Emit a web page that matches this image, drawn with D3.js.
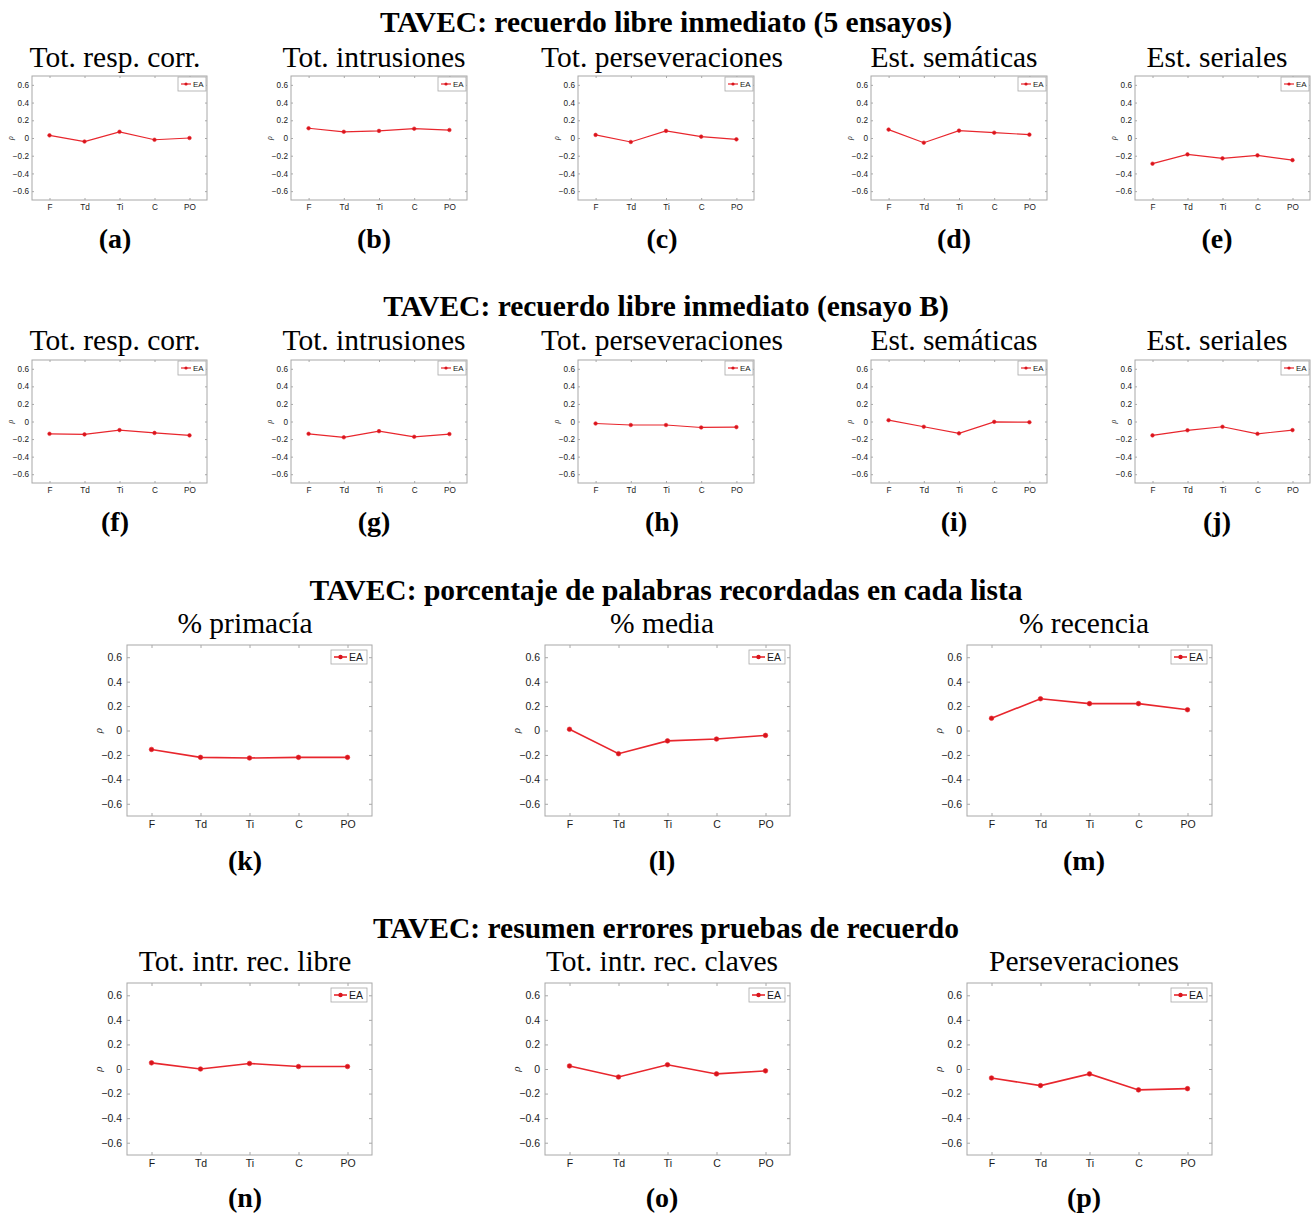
<!DOCTYPE html>
<html><head><meta charset="utf-8">
<script src="https://cdn.jsdelivr.net/npm/d3@7"></script>
<style>
body{margin:0;background:#fff;}
svg{display:block;}
</style></head>
<body>
<script>
// ---------- data ----------
const categories = ["F","Td","Ti","C","PO"];
const yTicks = [-0.6,-0.4,-0.2,0,0.2,0.4,0.6];
const yDomain = [-0.7,0.7];
const seriesName = "EA";

const sectionTitles = [
  "TAVEC: recuerdo libre inmediato (5 ensayos)",
  "TAVEC: recuerdo libre inmediato (ensayo B)",
  "TAVEC: porcentaje de palabras recordadas en cada lista",
  "TAVEC: resumen errores pruebas de recuerdo"
];
const panelTitles = [
  "Tot. resp. corr.","Tot. intrusiones","Tot. perseveraciones","Est. semáticas","Est. seriales",
  "Tot. resp. corr.","Tot. intrusiones","Tot. perseveraciones","Est. semáticas","Est. seriales",
  "% primacía","% media","% recencia",
  "Tot. intr. rec. libre","Tot. intr. rec. claves","Perseveraciones"
];
const panelLabels = ["(a)","(b)","(c)","(d)","(e)","(f)","(g)","(h)","(i)","(j)","(k)","(l)","(m)","(n)","(o)","(p)"];

const valuesA = [0.03,-0.04,0.07,-0.02,0.00];
const valuesB = [0.11,0.07,0.08,0.105,0.09];
const valuesC = [0.035,-0.045,0.08,0.015,-0.015];
const valuesD = [0.095,-0.053,0.083,0.06,0.038];
const valuesE = [-0.29,-0.185,-0.23,-0.196,-0.25];
const valuesF = [-0.14,-0.147,-0.098,-0.13,-0.158];
const valuesG = [-0.14,-0.18,-0.11,-0.174,-0.143];
const valuesH = [-0.023,-0.04,-0.04,-0.068,-0.064];
const valuesI = [0.015,-0.06,-0.135,-0.004,-0.008];
const valuesJ = [-0.158,-0.10,-0.06,-0.14,-0.098];
const valuesK = [-0.155,-0.22,-0.225,-0.22,-0.22];
const valuesL = [0.01,-0.19,-0.085,-0.07,-0.04];
const valuesM = [0.10,0.26,0.22,0.22,0.17];
const valuesN = [0.05,0.00,0.045,0.02,0.02];
const valuesO = [0.025,-0.065,0.035,-0.04,-0.015];
const valuesP = [-0.073,-0.135,-0.04,-0.17,-0.16];

const allValues = [valuesA,valuesB,valuesC,valuesD,valuesE,valuesF,valuesG,valuesH,
                   valuesI,valuesJ,valuesK,valuesL,valuesM,valuesN,valuesO,valuesP];

// ---------- layout ----------
const W = 1311, H = 1214;
const smallX = [[32,207],[291,467],[578,754],[871,1047],[1135,1310]];
const smallC = [115,374,662,954,1217];
const bigX = [[127,372],[545,790],[967,1212]];
const bigC = [245,662,1084];
const rows = [
  {head:32, sub:67, box:[76,200], lab:248, xs:smallX, cs:smallC, big:false},
  {head:316, sub:350, box:[360,483], lab:531, xs:smallX, cs:smallC, big:false},
  {head:600, sub:633, box:[645,816], lab:870, xs:bigX, cs:bigC, big:true},
  {head:938, sub:971, box:[983,1155], lab:1207, xs:bigX, cs:bigC, big:true}
];

const svg = d3.select("body").append("svg").attr("width",W).attr("height",H);
const serif = "'Liberation Serif','Times New Roman',serif";
const sans = "'Liberation Sans',Arial,Helvetica,sans-serif";
const red = "#e8262d", axisCol = "#a8a8a8", txtCol = "#1a1a1a";

let p = 0;
rows.forEach((row, ri) => {
  svg.append("text").attr("x",666).attr("y",row.head).attr("text-anchor","middle")
    .attr("font-family",serif).attr("font-weight","bold").attr("font-size",29.5)
    .attr("fill","#000").text(sectionTitles[ri]);
  row.xs.forEach((xr, ci) => {
    const vals = allValues[p];
    const big = row.big;
    const x = d3.scaleLinear().domain([0.5,5.5]).range(xr);
    const y = d3.scaleLinear().domain(yDomain).range([row.box[1], row.box[0]]);
    const g = svg.append("g");
    const fs = big ? 10.5 : 8.2;
    const tl = big ? 3 : 2;
    // subplot title
    svg.append("text").attr("x",row.cs[ci]).attr("y",row.sub).attr("text-anchor","middle")
      .attr("font-family",serif).attr("font-size",29.5).attr("fill","#000").text(panelTitles[p]);
    // label
    svg.append("text").attr("x",row.cs[ci]).attr("y",row.lab).attr("text-anchor","middle")
      .attr("font-family",serif).attr("font-weight","bold").attr("font-size",28).attr("fill","#000").text(panelLabels[p]);
    // box
    g.append("rect").attr("x",xr[0]).attr("y",row.box[0]).attr("width",xr[1]-xr[0])
      .attr("height",row.box[1]-row.box[0]).attr("fill","#fff").attr("stroke",axisCol).attr("stroke-width",1);
    // axes
    const xIdx = categories.map((c,i)=>i+1);
    const xAxis = d3.axisBottom(x).tickValues(xIdx).tickFormat((d)=>categories[d-1]).tickSizeInner(-tl).tickSizeOuter(0).tickPadding(big?5:4);
    const ax = g.append("g").attr("transform",`translate(0,${row.box[1]})`).call(xAxis);
    const yAxis = d3.axisLeft(y).tickValues(yTicks).tickFormat(d=>d===0?"0":d3.format(".1f")(d)).tickSizeInner(-tl).tickSizeOuter(0).tickPadding(big?5:3);
    const ay = g.append("g").attr("transform",`translate(${xr[0]},0)`).call(yAxis);
    const axT = g.append("g").attr("transform",`translate(0,${row.box[0]})`).call(d3.axisTop(x).tickValues(xIdx).tickFormat("").tickSizeInner(-tl).tickSizeOuter(0));
    const ayR = g.append("g").attr("transform",`translate(${xr[1]},0)`).call(d3.axisRight(y).tickValues(yTicks).tickFormat("").tickSizeInner(-tl).tickSizeOuter(0));
    [ax,ay,axT,ayR].forEach(a=>{
      a.select(".domain").remove();
      a.selectAll("line").attr("stroke",axisCol);
      a.selectAll("text").attr("font-family",sans).attr("font-size",fs).attr("fill",txtCol);
    });
    // y label rho
    const ylx = big ? xr[0]-25 : xr[0]-19;
    const ymid = (row.box[0]+row.box[1])/2;
    g.append("text").attr("transform",`translate(${ylx},${ymid}) rotate(-90)`).attr("text-anchor","middle")
      .attr("font-family",serif).attr("font-style","italic").attr("font-size",big?11:8).attr("fill",txtCol).text("ρ");
    // line
    const line = d3.line().x((d,i)=>x(i+1)).y(d=>y(d));
    g.append("path").datum(vals).attr("d",line).attr("fill","none").attr("stroke",red).attr("stroke-width",big?1.6:1.2);
    g.selectAll("circle.pt").data(vals).join("circle").attr("class","pt")
      .attr("cx",(d,i)=>x(i+1)).attr("cy",d=>y(d)).attr("r",big?2.3:1.8)
      .attr("fill","#d8141c").attr("stroke",red).attr("stroke-width",0.6);
    // legend
    const lw = big?36:28, lh = 14, gap = big?5:1;
    const lx = xr[1]-gap-lw, ly = row.box[0]+gap;
    const lg = g.append("g");
    lg.append("rect").attr("x",lx).attr("y",ly).attr("width",lw).attr("height",lh)
      .attr("fill","#fff").attr("stroke",axisCol).attr("stroke-width",0.8);
    const l1 = lx+3, l2 = lx+(big?16:13);
    lg.append("line").attr("x1",l1).attr("x2",l2).attr("y1",ly+lh/2).attr("y2",ly+lh/2)
      .attr("stroke",red).attr("stroke-width",big?1.6:1.2);
    lg.append("circle").attr("cx",(l1+l2)/2).attr("cy",ly+lh/2).attr("r",big?2.2:1.6).attr("fill","#d8141c");
    lg.append("text").attr("x",l2+2).attr("y",ly+lh/2).attr("dy","0.35em")
      .attr("font-family",sans).attr("font-size",big?10.5:8).attr("fill",txtCol).text(seriesName);
    p++;
  });
});
</script>
</body></html>
